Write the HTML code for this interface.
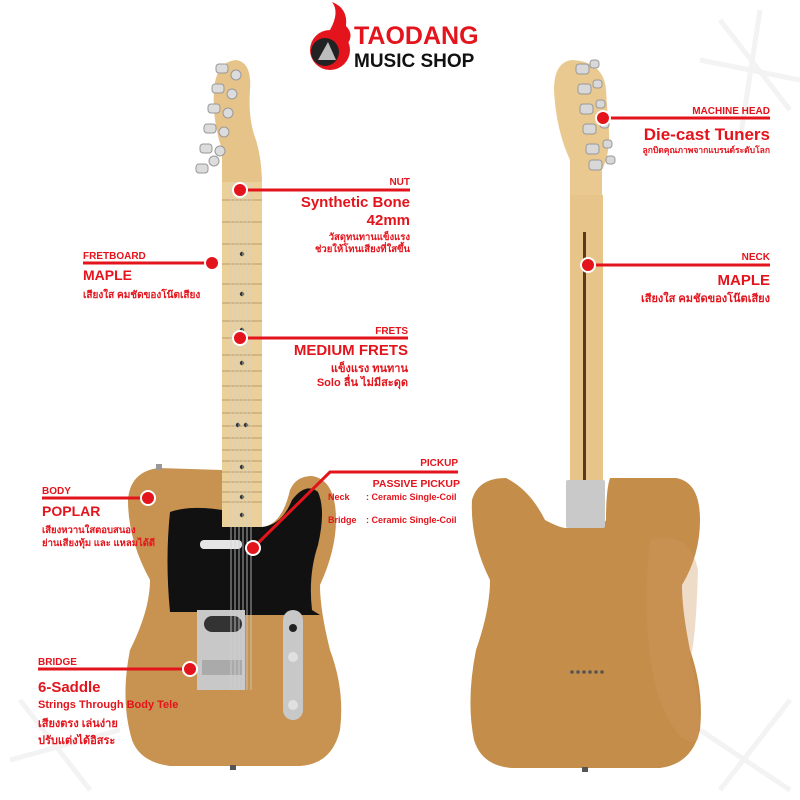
<!DOCTYPE html>
<html><head><meta charset="utf-8"><style>
html,body{margin:0;padding:0;background:#fff;}
svg{display:block}
text{font-family:"Liberation Sans","DejaVu Sans",sans-serif;font-weight:bold;fill:#e3141c}
</style></head><body>
<svg width="800" height="800" viewBox="0 0 800 800" xmlns="http://www.w3.org/2000/svg">
<rect width="800" height="800" fill="#fff"/>
<g stroke="#f3f3f3" stroke-width="5" fill="none">
<path d="M720 20 L790 110 M760 10 L740 140 M700 60 L800 80"/>
<path d="M20 700 L90 790 M10 760 L120 730"/>
<path d="M700 730 L790 790 M720 790 L790 700"/>
</g>
<!-- logo -->
<circle cx="330" cy="50" r="20" fill="#e3141c"/>
<path d="M330 30 q10 -18 2 -28 q16 6 14 24 q10 10 -2 22z" fill="#e3141c"/>
<circle cx="325" cy="52" r="14" fill="#222"/>
<path d="M318 60 l10 -18 l8 18z" fill="#fff" opacity=".7"/>
<text x="354" y="44" font-size="25" style="fill:#e3141c">TAODANG</text>
<text x="354" y="67" font-size="19" style="fill:#111">MUSIC SHOP</text>

<!-- FRONT GUITAR -->
<path d="M222 185 L222 150 Q212 120 214 90 Q216 62 236 60 Q252 62 250 90 Q248 120 256 140 Q262 160 262 185 Z" fill="#e6c389"/>
<g fill="#dcdcdc" stroke="#999" stroke-width="1">
<rect x="216" y="64" width="12" height="9" rx="3"/><rect x="212" y="84" width="12" height="9" rx="3"/>
<rect x="208" y="104" width="12" height="9" rx="3"/><rect x="204" y="124" width="12" height="9" rx="3"/>
<rect x="200" y="144" width="12" height="9" rx="3"/><rect x="196" y="164" width="12" height="9" rx="3"/>
<circle cx="236" cy="75" r="5"/><circle cx="232" cy="94" r="5"/><circle cx="228" cy="113" r="5"/>
<circle cx="224" cy="132" r="5"/><circle cx="220" cy="151" r="5"/><circle cx="214" cy="161" r="5"/>
</g>
<rect x="222" y="182" width="40" height="345" fill="#ecd09a"/>
<g stroke="#b89a6a" stroke-width="1">
<path d="M222 200H262M222 222H262M222 244H262M222 264H262M222 284H262M222 303H262M222 321H262M222 338H262M222 355H262M222 371H262M222 386H262M222 400H262M222 413H262M222 426H262M222 438H262M222 450H262M222 461H262M222 472H262M222 482H262M222 492H262M222 502H262"/>
</g>
<g fill="#333"><circle cx="242" cy="254" r="2.2"/><circle cx="242" cy="294" r="2.2"/><circle cx="242" cy="330" r="2.2"/><circle cx="242" cy="363" r="2.2"/><circle cx="238" cy="425" r="2.2"/><circle cx="246" cy="425" r="2.2"/><circle cx="242" cy="467" r="2.2"/><circle cx="242" cy="497" r="2.2"/><circle cx="242" cy="515" r="2.2"/></g>
<path d="M158 468 Q130 472 128 500 Q128 540 150 580 Q150 610 130 650 Q120 700 132 740 Q140 762 170 766 L300 766 Q332 764 340 730 Q345 690 330 650 Q320 610 320 585 Q336 550 336 520 Q336 480 312 476 Q296 476 290 490 Q282 525 262 527 L222 527 L222 470 Z" fill="#c89250"/>
<path d="M170 512 Q190 505 222 510 L222 527 L262 527 Q282 525 292 500 Q306 482 318 492 Q326 510 318 545 Q308 575 312 610 L320 615 L208 615 L200 612 Q178 612 170 612 Q165 560 170 512 Z" fill="#111"/>
<rect x="200" y="540" width="42" height="9" rx="4" fill="#e5e5e5"/>
<rect x="197" y="610" width="48" height="80" fill="#c8c8c8"/>
<rect x="204" y="616" width="38" height="16" rx="8" fill="#333"/>
<rect x="202" y="660" width="40" height="15" fill="#aaa"/>
<rect x="283" y="610" width="20" height="110" rx="10" fill="#c8c8c8"/>
<circle cx="293" cy="628" r="4" fill="#222"/><circle cx="293" cy="657" r="5" fill="#e0e0e0"/><circle cx="293" cy="705" r="5" fill="#e0e0e0"/>
<g stroke="#d0d0d0" stroke-width=".8"><path d="M231 182V690M235 182V690M239 182V690M243 182V690M247 182V690M251 182V690"/></g>
<rect x="230" y="765" width="6" height="5" fill="#555"/>
<rect x="156" y="464" width="6" height="6" fill="#999"/>

<!-- BACK GUITAR -->
<path d="M570 200 L570 160 Q556 130 554 90 Q554 62 572 60 Q604 62 606 90 L608 120 Q612 150 602 170 L602 200 Z" fill="#e9c98f"/>
<g fill="#d8d8d8" stroke="#999" stroke-width="1">
<rect x="576" y="64" width="13" height="10" rx="3"/><rect x="578" y="84" width="13" height="10" rx="3"/>
<rect x="580" y="104" width="13" height="10" rx="3"/><rect x="583" y="124" width="13" height="10" rx="3"/>
<rect x="586" y="144" width="13" height="10" rx="3"/><rect x="589" y="160" width="13" height="10" rx="3"/>
<rect x="590" y="60" width="9" height="8" rx="3"/><rect x="593" y="80" width="9" height="8" rx="3"/>
<rect x="596" y="100" width="9" height="8" rx="3"/><rect x="600" y="120" width="9" height="8" rx="3"/>
<rect x="603" y="140" width="9" height="8" rx="3"/><rect x="606" y="156" width="9" height="8" rx="3"/>
</g>
<rect x="570" y="195" width="33" height="290" fill="#e7c48a"/>
<rect x="583" y="232" width="3" height="250" fill="#5a3a1a"/>
<path d="M506 478 Q478 478 472 500 Q470 540 490 580 Q490 610 476 650 Q466 700 474 740 Q482 766 512 768 L660 768 Q692 764 700 730 Q704 690 690 650 Q682 610 682 585 Q700 555 700 520 Q700 482 676 478 L610 478 Q606 490 606 520 Q604 528 566 528 Q560 528 545 520 Q530 490 506 478 Z" fill="#c48d4a"/>
<path d="M650 540 Q690 530 698 570 Q696 640 690 660 Q702 700 698 740 Q680 750 660 700 Q640 640 650 540 Z" fill="#d09a62" opacity=".35"/>
<rect x="566" y="480" width="39" height="48" rx="2" fill="#c9c9c9"/>
<g fill="#555"><circle cx="572" cy="672" r="1.8"/><circle cx="578" cy="672" r="1.8"/><circle cx="584" cy="672" r="1.8"/><circle cx="590" cy="672" r="1.8"/><circle cx="596" cy="672" r="1.8"/><circle cx="602" cy="672" r="1.8"/></g>
<rect x="582" y="767" width="6" height="5" fill="#555"/>

<!-- CALLOUTS -->
<g stroke="#e3141c" stroke-width="3" fill="none">
<path d="M240 190H410"/><path d="M83 263H212"/><path d="M240 338H408"/>
<path d="M253 548L330 472H458"/><path d="M42 498H148"/><path d="M38 669H190"/>
<path d="M603 118H770"/><path d="M588 265H770"/>
</g>
<g fill="#e3141c" stroke="#fff" stroke-width="2">
<circle cx="240" cy="190" r="7"/><circle cx="212" cy="263" r="7"/><circle cx="240" cy="338" r="7"/>
<circle cx="253" cy="548" r="7"/><circle cx="148" cy="498" r="7"/><circle cx="190" cy="669" r="7"/>
<circle cx="603" cy="118" r="7"/><circle cx="588" cy="265" r="7"/>
</g>

<g text-anchor="end">
<text x="410" y="185" font-size="10">NUT</text>
<text x="410" y="207" font-size="15">Synthetic Bone</text>
<text x="410" y="225" font-size="15">42mm</text>
<text x="410" y="240" font-size="9.5">วัสดุทนทานแข็งแรง</text>
<text x="410" y="252" font-size="9.5">ช่วยให้โทนเสียงที่ใสขึ้น</text>
<text x="408" y="334" font-size="10">FRETS</text>
<text x="408" y="355" font-size="15">MEDIUM FRETS</text>
<text x="408" y="372" font-size="11">แข็งแรง ทนทาน</text>
<text x="408" y="386" font-size="11">Solo ลื่น ไม่มีสะดุด</text>
<text x="458" y="466" font-size="10">PICKUP</text>
<text x="460" y="487" font-size="10.5">PASSIVE PICKUP</text>
<text x="770" y="114" font-size="10">MACHINE HEAD</text>
<text x="770" y="140" font-size="17">Die-cast Tuners</text>
<text x="770" y="153" font-size="8.5">ลูกบิดคุณภาพจากแบรนด์ระดับโลก</text>
<text x="770" y="260" font-size="10">NECK</text>
<text x="770" y="285" font-size="15">MAPLE</text>
<text x="770" y="302" font-size="11">เสียงใส คมชัดของโน๊ตเสียง</text>
</g>
<text x="328" y="500" font-size="9">Neck</text>
<text x="366" y="500" font-size="9">: Ceramic Single-Coil</text>
<text x="328" y="523" font-size="9">Bridge</text>
<text x="366" y="523" font-size="9">: Ceramic Single-Coil</text>
<text x="83" y="259" font-size="10">FRETBOARD</text>
<text x="83" y="280" font-size="14">MAPLE</text>
<text x="83" y="298" font-size="10">เสียงใส คมชัดของโน๊ตเสียง</text>
<text x="42" y="494" font-size="10">BODY</text>
<text x="42" y="516" font-size="14">POPLAR</text>
<text x="42" y="533" font-size="9.5">เสียงหวานใสตอบสนอง</text>
<text x="42" y="546" font-size="9.5">ย่านเสียงทุ้ม และ แหลมได้ดี</text>
<text x="38" y="665" font-size="10">BRIDGE</text>
<text x="38" y="692" font-size="15">6-Saddle</text>
<text x="38" y="708" font-size="11">Strings Through Body Tele</text>
<text x="38" y="727" font-size="11">เสียงตรง เล่นง่าย</text>
<text x="38" y="744" font-size="11">ปรับแต่งได้อิสระ</text>
</svg>
</body></html>
